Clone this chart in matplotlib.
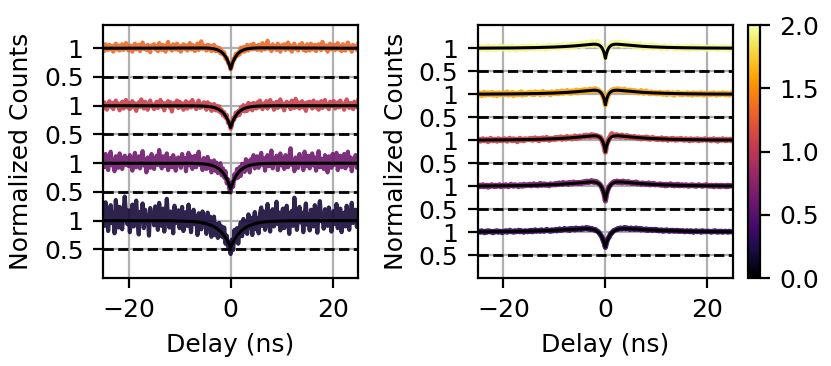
import numpy as np
import matplotlib.pyplot as plt
from matplotlib.cm import ScalarMappable
from matplotlib.colors import Normalize

# delay bins (ns)
delay = np.arange(-25, 25.001, 0.25)

# measured counts as (g2 - 1) in units of 0.01, bottom trace first
left_counts = [
    [20, -9, 32, 7, -18, 13, 27, -4, 10, -22, 36, 6, -12, 24, 3, -15, 16, 42, 9, -6,
     18, -20, 4, 28, -10, 12, 35, -3, -24, 15, 7, 30, -13, 19, -2, 10, -26, 22, 4, 13,
     -8, 25, 12, -16, 31, 3, -9, 21, -19, 9, 38, 1, -12, 16, 6, -22, 26, 10, -4, 18,
     -13, 9, 24, -18, 4, 15, -9, 28, 0, -20, 12, 19, -6, 7, -25, 13, 3, -15, 16, -4,
     6, -23, 14, -14, 7, -28, -1, 7, -25, -6, -30, -4, -27, -10, -29, -12, -40, -26, -45, -37,
     -58,
     -33, -51, -16, -36, -13, -40, -15, -3, -27, 3, -19, -2, -23, 11, -12, 5, -25, 2, 15, -15,
     4, -22, 12, 23, -9, 16, -16, 6, 29, -3, -19, 13, 20, -10, 3, 33, -6, 14, -17, 9,
     21, -13, 7, 26, -4, -23, 13, 17, -9, 40, 4, -16, 10, 24, -3, 14, -20, 9, 30, -7,
     11, -17, 19, 3, -10, 27, 7, -21, 16, 34, -1, 10, -14, 20, 4, -9, 23, 13, -19, 6,
     17, -6, 29, -13, 9, 21, -20, 4, 14, -10, 26, 1, -16, 11, 31, -4, 7, 19, -11, 14],
    [10, -7, 16, 3, -12, 8, 20, -4, 5, -14, 12, 1, -8, 17, 7, -10, 4, 13, -3, 9,
     -5, 14, 0, -13, 8, 18, -7, 4, 12, -9, 3, 21, -4, 7, -16, 10, 1, -8, 16, 5,
     -10, 8, 13, -3, 23, 4, -9, 12, -5, 7, 17, -12, 3, 9, -7, 14, 0, -13, 8, 10,
     4, -8, 16, -1, 9, -14, 5, 18, -4, 12, -10, 3, 13, -7, 8, 20, -3, 4, -12, 9,
     7, -10, 11, -8, 4, -16, 0, 5, -13, 1, -17, -5, 0, -21, -9, -25, -14, -35, -28, -45,
     -51,
     -33, -41, -19, -27, -10, -25, -7, -22, -1, -6, -15, 7, -9, 4, -16, 7, -2, 14, -9, 3,
     12, -8, 4, 18, -3, 9, -13, 7, 14, -5, 3, 22, -9, 8, -1, 13, -12, 5, 17, -4,
     8, -10, 14, 1, -7, 12, 26, -3, 5, -14, 10, 4, -8, 16, 0, 9, -12, 20, 3, -5,
     13, -9, 7, 17, -4, 10, -13, 3, 21, -7, 8, 1, -10, 14, 5, -16, 12, 4, -8, 16,
     -3, 9, 18, -12, 5, 13, -7, 1, 16, -9, 7, 20, -4, 10, -14, 8, 3, 14, -8, 12],
    [-4, 6, 1, -7, 3, 8, -2, 5, -6, 2, 9, -1, 4, -8, 3, 7, -5, 1, 10, -3,
     5, -6, 2, 8, -3, 4, -9, 1, 6, -2, 11, 0, -5, 7, 3, -7, 4, 9, -1, 2,
     -6, 3, 7, -4, 1, 10, -2, 5, -8, 4, 0, 8, -3, 6, -10, 2, 5, -1, 9, -4,
     7, -2, 4, -7, 3, 8, -5, 1, 6, -3, 10, -1, 2, -6, 5, 9, -4, 3, -2, 6,
     3, -7, 6, -4, 3, -9, 1, 3, -8, 0, -9, -1, -12, -7, -17, -11, -21, -16, -30, -28,
     -40,
     -35, -21, -24, -12, -18, -9, -16, -3, -9, 1, -10, 0, -9, 5, -5, 3, -8, 5, 1, -5,
     6, -3, 9, 1, -6, 4, -2, 8, -5, 3, 10, -1, 5, -7, 2, 7, -4, 0, 11, -2,
     4, -8, 3, 7, -1, 5, -6, 9, 2, -4, 12, -2, 6, -5, 1, 8, -3, 4, -9, 6,
     -1, 7, 2, -5, 9, 3, -3, 6, -7, 1, 8, -4, 5, 10, -2, 3, -6, 7, 0, 4,
     8, -5, 2, 6, -3, 9, -1, 4, -7, 3, 11, 0, -4, 5, 2, -6, 7, 1, -3, 9],
    [3, -5, 7, 1, -3, 6, -1, 4, -6, 2, 8, -2, 5, -4, 1, 7, -3, 3, 9, -1,
     -4, 5, 2, -6, 4, 8, -2, 1, 6, -5, 3, 10, -1, 4, -3, 6, 0, -7, 5, 2,
     7, -2, 4, -5, 9, 1, -3, 6, 2, -6, 5, 11, -1, 3, -4, 7, 1, -2, 8, -3,
     4, -6, 2, 7, -1, 5, -4, 3, 9, -2, 6, 0, -5, 4, 8, -3, 2, 12, -1, 5,
     3, -4, 6, -2, 5, -5, 3, 6, -5, 2, -5, 1, -9, -4, -11, -7, -18, -16, -26, -27,
     -37,
     -32, -19, -20, -10, -14, -7, -11, 1, -6, 2, -6, 1, 6, -4, 4, 6, -2, 8, -1, 4,
     -3, 6, 1, -4, 9, 2, -2, 5, 13, -1, 4, -5, 7, 0, 3, -3, 8, 2, -6, 5,
     1, 7, -3, 4, 10, -2, 5, -6, 3, 8, -1, 2, -4, 6, 1, 9, -3, 4, -5, 7,
     2, -4, 8, 1, -2, 6, -5, 3, 7, 0, -3, 11, 2, -1, 5, -6, 4, 8, -2, 3,
     6, -3, 1, 9, -2, 4, -5, 7, 2, -4, 5, 10, -1, 3, -6, 6, 0, 4, -3, 7],
]
left_power = [0.2, 0.62, 1.08, 1.33]
# fit parameters: dip depth, dip time (ns), bunching height, bunching time (ns)
left_fit = [(0.46, 2.2, 0.0, 5.0), (0.45, 1.5, 0.0, 5.0),
            (0.38, 1.3, 0.0, 5.0), (0.39, 1.2, 0.03, 5.0)]

right_counts = [
    [1, 2, 0, 3, 1, -1, 2, 0, 3, 1, 2, 0, -1, 2, 1, 3, 0, 2, 1, -1,
     2, 1, 3, 0, 2, 4, 1, 2, 0, 3, 1, 2, 4, 1, 3, 2, 0, 3, 2, 1,
     3, 2, 4, 1, 3, 5, 2, 3, 4, 2, 5, 3, 2, 4, 6, 3, 4, 2, 5, 3,
     4, 6, 3, 5, 7, 4, 6, 5, 8, 6, 5, 7, 4, 8, 6, 7, 5, 9, 6, 7,
     8, 6, 9, 7, 8, 10, 7, 9, 6, 8, 7, 5, 6, 3, 2, -1, -5, -9, -16, -23,
     -33,
     -21, -14, -10, -4, -2, 2, 4, 5, 6, 8, 7, 9, 7, 8, 10, 7, 9, 8, 6, 9,
     7, 8, 6, 9, 7, 6, 8, 5, 7, 6, 5, 7, 4, 6, 5, 6, 4, 5, 6, 4,
     5, 3, 4, 5, 2, 4, 3, 5, 3, 2, 4, 3, 4, 2, 3, 4, 2, 3, 2, 3,
     3, 1, 2, 3, 2, 1, 3, 2, 0, 2, 3, 1, 2, 2, 0, 3, 1, 2, 1, 2,
     2, 1, 0, 2, 1, 3, 1, 0, 2, 1, 2, 0, 1, 2, 1, 0, 2, 1, 1, 2],
    [1, -1, 2, 0, 3, -1, 1, 2, -2, 1, 0, 3, 1, -1, 2, 0, 1, 3, -1, 1,
     2, 0, 3, 1, -1, 2, 4, 1, 0, 3, 1, 2, -1, 3, 2, 0, 4, 1, 2, 3,
     2, 4, 1, 3, 5, 2, 3, 1, 4, 6, 2, 3, 5, 2, 4, 3, 1, 5, 4, 3,
     5, 3, 6, 4, 7, 5, 4, 8, 5, 6, 7, 4, 8, 6, 5, 9, 6, 7, 8, 6,
     8, 6, 9, 7, 10, 8, 11, 8, 10, 12, 9, 11, 8, 10, 7, 6, 3, -2, -9, -18,
     -32,
     -16, -7, -1, 3, 6, 8, 10, 9, 11, 8, 10, 9, 7, 11, 8, 9, 7, 10, 8, 6,
     8, 6, 7, 9, 5, 7, 6, 4, 7, 5, 6, 4, 5, 7, 3, 5, 4, 6, 3, 4,
     4, 3, 5, 2, 4, 3, 1, 4, 2, 3, 5, 2, 3, 1, 3, 2, 4, 1, 2, 3,
     2, 1, 3, 2, 0, 2, 1, 3, 1, 2, 0, 1, 3, 2, 1, 0, 2, 1, 3, 1,
     1, 0, 2, 1, -1, 1, 2, 0, 1, -1, 2, 1, 0, 1, -1, 2, 0, 1, 1, 0],
    [0, 2, -2, 1, 3, -1, 0, 2, -3, 1, 4, 0, -1, 2, 1, -2, 3, 0, 2, -1,
     1, 3, 0, -2, 2, 4, 1, -1, 3, 0, 2, -3, 1, 4, 0, 2, -1, 3, 1, 2,
     3, 1, 4, 0, 2, 5, 1, 3, -1, 4, 2, 5, 1, 3, 6, 2, 0, 4, 3, 2,
     5, 2, 6, 3, 4, 7, 2, 5, 6, 3, 8, 4, 5, 7, 3, 6, 9, 4, 7, 5,
     9, 6, 8, 10, 7, 11, 8, 10, 7, 12, 9, 11, 8, 10, 9, 6, 7, 2, -5, -13,
     -26,
     -9, -3, 4, 9, 14, 10, 11, 8, 12, 9, 10, 7, 11, 8, 9, 6, 10, 7, 8, 6,
     7, 5, 8, 6, 4, 7, 5, 3, 6, 4, 5, 7, 3, 5, 2, 4, 6, 3, 4, 2,
     4, 2, 3, 5, 1, 3, 2, 4, 0, 2, 3, 1, 4, 2, 0, 3, 1, 2, 4, 1,
     2, 0, 3, 1, 2, -1, 3, 1, 0, 2, 1, 3, -1, 2, 1, 0, 2, 3, 0, 1,
     1, 2, -1, 1, 3, 0, 1, -2, 2, 1, 0, 3, 1, -1, 2, 0, 1, 2, -1, 1],
    [-1, 3, 0, -3, 2, 4, -2, 1, 3, -1, 0, 4, -2, 2, 1, -3, 3, 0, -1, 2,
     3, -1, 2, 5, -2, 1, 0, 4, -3, 2, 1, -1, 3, 0, 5, -2, 2, 1, -1, 3,
     2, 4, 0, 3, -1, 5, 1, 2, 4, -1, 3, 6, 0, 2, 4, 1, 3, -1, 5, 2,
     4, 2, 6, 1, 5, 3, 7, 2, 5, 4, 8, 3, 6, 2, 7, 5, 4, 9, 3, 6,
     8, 5, 9, 6, 10, 7, 9, 6, 11, 8, 10, 7, 12, 9, 10, 8, 5, 3, -4, -11,
     -23,
     -10, -4, 3, 6, 8, 10, 7, 11, 9, 12, 8, 10, 7, 9, 11, 6, 8, 5, 9, 7,
     6, 8, 4, 7, 5, 3, 6, 8, 4, 2, 5, 7, 3, 4, 1, 5, 3, 2, 4, 1,
     3, 1, 4, 2, 0, 3, 2, -1, 4, 1, 2, 0, 3, -2, 1, 2, 4, 0, 1, -1,
     2, 0, 1, 3, -1, 2, 0, -2, 3, 1, 0, 2, -1, 1, 3, 0, -2, 2, 1, 0,
     1, -1, 2, 0, 3, 1, -2, 0, 2, -1, 1, 3, 0, -1, 2, 1, -2, 0, 3, 1],
    [2, -3, 4, 0, -2, 3, 1, -4, 5, -1, 2, -2, 0, 4, -3, 1, 3, -1, 6, -2,
     1, 4, -2, 0, 3, -3, 2, 5, -1, 1, -4, 3, 0, 2, -2, 5, 1, -3, 4, 0,
     3, -1, 5, 2, -2, 4, 1, 6, -1, 3, 0, 5, 2, -2, 4, 1, 7, 0, 3, 2,
     6, 1, 4, 7, 0, 5, 3, 8, 2, 6, 4, 1, 7, 3, 9, 4, 2, 8, 5, 9,
     9, 4, 11, 4, 9, 12, 6, 11, 7, 14, 6, 13, 10, 6, 15, 4, 7, 1, -1, -13,
     -21,
     -8, -2, 5, 3, 11, 9, 12, 7, 13, 8, 11, 13, 5, 10, 6, 11, 5, 10, 5, 8,
     9, 4, 6, 9, 2, 7, 10, 3, 6, 0, 7, 5, 2, 7, 2, 5, 8, 0, 4, 6,
     5, 1, 4, -1, 3, 6, 2, -2, 4, 1, 3, 5, 0, 2, -2, 4, 1, 3, -1, 2,
     3, -2, 1, 4, 0, -3, 2, 5, -1, 1, 3, -2, 4, 0, 2, -1, 3, 1, -3, 2,
     1, -2, 3, 0, 4, -1, 2, -3, 1, 3, -1, 0, 4, -2, 2, 1, -3, 3, 0, 5],
]
right_power = [0.35, 0.68, 1.1, 1.6, 1.95]
right_fit = [(0.45, 1.0, 0.13, 9.0), (0.45, 0.7, 0.15, 7.0),
             (0.40, 0.6, 0.15, 6.5), (0.37, 0.6, 0.14, 6.0),
             (0.36, 0.6, 0.14, 6.0)]


def g2_model(t, depth, tau1, bunch, tau2):
    return 1 - depth * np.exp(-np.abs(t) / tau1) + bunch * np.exp(-np.abs(t) / tau2)


plt.rcParams['font.size'] = 9
cmap = plt.get_cmap('inferno')
norm = Normalize(vmin=0, vmax=2)

fig = plt.figure(figsize=(4.155, 1.83), dpi=200)
ax_l = fig.add_axes([0.124, 0.240, 0.307, 0.691])
ax_r = fig.add_axes([0.575, 0.240, 0.307, 0.691])
cax = fig.add_axes([0.900, 0.240, 0.0144, 0.691])

t_fine = np.linspace(-25, 25, 1001)

panels = [(ax_l, left_counts, left_power, left_fit, 4.4, 1.5),
          (ax_r, right_counts, right_power, right_fit, 5.5, 1.9)]
for ax, counts, power, fits, ytop, lw in panels:
    yticks = []
    for k, (vals, p, pars) in enumerate(zip(counts, power, fits)):
        assert len(vals) == len(delay)
        y = 1 + np.array(vals) / 100.0 + k
        ax.plot(delay, y, color=cmap(norm(p)), lw=lw, alpha=0.9, zorder=2)
        ax.plot(t_fine, g2_model(t_fine, *pars) + k, color='k', lw=1.1, zorder=3)
        ax.axhline(0.5 + k, color='k', ls='--', lw=1.0, zorder=3)
        yticks += [0.5 + k, 1 + k]
    ax.set_yticks(yticks)
    ax.set_yticklabels(['0.5', '1'] * len(counts))
    ax.set_xticks([-20, 0, 20])
    ax.set_xlim(-25, 25)
    ax.set_ylim(0, ytop)
    ax.grid(True, zorder=0)
    ax.set_axisbelow(True)
    ax.set_xlabel('Delay (ns)')
    ax.set_ylabel('Normalized Counts')

sm = ScalarMappable(norm=norm, cmap=cmap)
fig.colorbar(sm, cax=cax, ticks=[0, 0.5, 1.0, 1.5, 2.0])

fig.savefig('out.png', dpi=200)
